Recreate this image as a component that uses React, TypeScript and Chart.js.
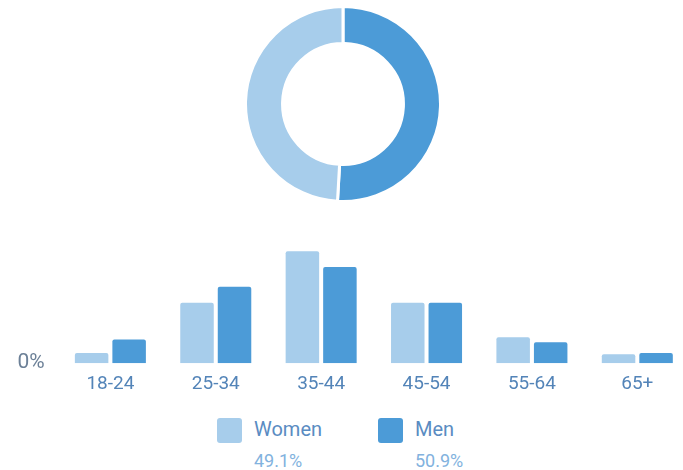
import React, { useEffect, useRef } from "react";
import { Chart, registerables } from "chart.js";

Chart.register(...registerables);

const ageGroups = ["18-24", "25-34", "35-44", "45-54", "55-64", "65+"];
const womenValues = [1.8, 10.7, 19.8, 10.7, 4.6, 1.6];
const menValues = [4.2, 13.5, 17.0, 10.7, 3.7, 1.8];
const genderLabels = ["Women", "Men"];
const genderShares = [49.1, 50.9];
const yTickValues = [0];

const LIGHT = "rgb(167,205,235)";
const DARK = "rgb(76,155,215)";
const COLORS = [LIGHT, DARK];

export default function App() {
  const donutRef = useRef<HTMLCanvasElement | null>(null);
  const barRef = useRef<HTMLCanvasElement | null>(null);

  useEffect(() => {
    const donut = new Chart(donutRef.current as HTMLCanvasElement, {
      type: "doughnut",
      data: {
        labels: [genderLabels[1], genderLabels[0]],
        datasets: [
          {
            data: [genderShares[1], genderShares[0]],
            backgroundColor: [COLORS[1], COLORS[0]],
            borderColor: "#ffffff",
            borderWidth: 3,
          },
        ],
      },
      options: {
        responsive: false,
        animation: false,
        cutout: "62%",
        plugins: { legend: { display: false }, tooltip: { enabled: false } },
        layout: { padding: 0 },
      },
    });

    const bar = new Chart(barRef.current as HTMLCanvasElement, {
      type: "bar",
      data: {
        labels: ageGroups,
        datasets: [
          {
            label: genderLabels[0],
            data: womenValues,
            backgroundColor: LIGHT,
            borderRadius: { topLeft: 2, topRight: 2, bottomLeft: 0, bottomRight: 0 },
            borderSkipped: "bottom",
            categoryPercentage: 0.712,
            barPercentage: 0.893,
          },
          {
            label: genderLabels[1],
            data: menValues,
            backgroundColor: DARK,
            borderRadius: { topLeft: 2, topRight: 2, bottomLeft: 0, bottomRight: 0 },
            borderSkipped: "bottom",
            categoryPercentage: 0.712,
            barPercentage: 0.893,
          },
        ],
      },
      options: {
        responsive: false,
        animation: false,
        layout: { padding: { left: 4.5, right: 0, top: 10, bottom: 6 } },
        plugins: { legend: { display: false }, tooltip: { enabled: false } },
        scales: {
          x: {
            grid: { display: false, drawTicks: false },
            border: { display: false },
            ticks: {
              color: "#5384b8",
              font: { family: "Roboto", size: 19 },
              padding: 10,
              maxRotation: 0,
            },
          },
          y: {
            min: 0,
            max: 21.5,
            grid: { display: false, drawTicks: false },
            border: { display: false },
            afterBuildTicks: (axis: any) => {
              axis.ticks = yTickValues.map((v) => ({ value: v }));
            },
            ticks: {
              color: "#6c8097",
              font: { family: "Roboto", size: 21 },
              padding: 13,
              callback: (v: any) => v + "%",
            },
          },
        },
      },
    });

    return () => {
      donut.destroy();
      bar.destroy();
    };
  }, []);

  const legendLeft = [217, 378];

  return (
    <div
      style={{
        position: "fixed",
        left: 0,
        top: 0,
        width: 683,
        height: 470,
        overflow: "hidden",
        background: "#ffffff",
        fontFamily: "Roboto, sans-serif",
      }}
    >
      <canvas
        ref={donutRef}
        width={198}
        height={198}
        style={{ position: "absolute", left: 244, top: 5, width: 198, height: 198 }}
      />
      <canvas
        ref={barRef}
        width={690}
        height={196}
        style={{ position: "absolute", left: 0, top: 216, width: 690, height: 196 }}
      />
      {genderLabels.map((g, i) => (
        <div key={g} style={{ position: "absolute", left: legendLeft[i], top: 418 }}>
          <div
            style={{
              position: "absolute",
              left: 0,
              top: 0,
              width: 25,
              height: 25,
              borderRadius: 3,
              background: COLORS[i],
            }}
          />
          <div
            style={{
              position: "absolute",
              left: 37,
              top: -1,
              fontSize: 20,
              lineHeight: "24px",
              color: "#5a8cc2",
              whiteSpace: "nowrap",
            }}
          >
            {g}
          </div>
          <div
            style={{
              position: "absolute",
              left: 37,
              top: 33,
              fontSize: 18,
              lineHeight: "20px",
              color: "#82b2de",
              whiteSpace: "nowrap",
            }}
          >
            {genderShares[i].toFixed(1) + "%"}
          </div>
        </div>
      ))}
    </div>
  );
}
